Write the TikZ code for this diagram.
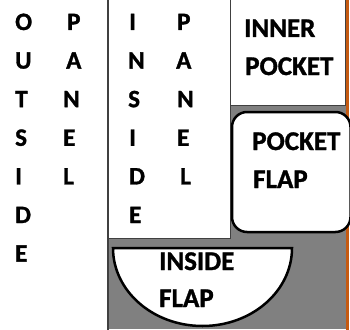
\documentclass[tikz,border=0pt]{standalone}
\usepackage{fontspec}
\setmainfont{Carlito}[BoldFeatures={FakeBold=1.2}]
\definecolor{panelgray}{HTML}{808080}
\definecolor{edgeorange}{HTML}{C55A11}
\definecolor{rulegray}{HTML}{404040}
\tikzset{
  ltr/.style={anchor=base west, inner sep=0pt, font=\fontsize{25}{28}\selectfont\bfseries},
  lbl/.style={anchor=base west, inner sep=0pt, font=\fontsize{27}{32}\selectfont\bfseries},
  sheet/.style={fill=white, draw=rulegray, line width=1pt},
  flap/.style={fill=white, draw=black, line width=2.5pt}
}
\begin{document}
\begin{tikzpicture}[x=1pt,y=-1pt]
\useasboundingbox (0,0) rectangle (350,329);
% grey backing of the inside half and its orange edge
\fill[panelgray] (108,0) rectangle (347,329);
\draw[edgeorange, line width=2.5pt] (347.5,-2) -- (347.5,331);
% inner pocket and inside panel sheets
\draw[sheet] (230,-2) rectangle (345,105);
\draw[sheet] (108,-2) rectangle (230,238);
% fold line between outside and inside panels
\draw[rulegray, line width=2pt] (108,-2) -- (108,331);
% pocket flap
\draw[flap, rounded corners=15pt] (232,112) rectangle (350.5,232);
% inside flap (half ellipse)
\draw[flap] (113,248) -- (292,248) arc[start angle=0, end angle=180, x radius=89.5, y radius=78] -- cycle;

% OUTSIDE
\node[ltr] (o1) at (15,30) {O};
\node[ltr] (o2) at (15,68.6) {U};
\node[ltr] (o3) at (15,107.2) {T};
\node[ltr] (o4) at (15,145.8) {S};
\node[ltr] (o5) at (15,184.4) {I};
\node[ltr] (o6) at (15,223) {D};
\node[ltr] (o7) at (15,261.6) {E};
% PANEL (outside)
\node[ltr] (p1) at (67,30) {P};
\node[ltr] (p2) at (66,68.6) {A};
\node[ltr] (p3) at (63,107.2) {N};
\node[ltr] (p4) at (63,145.8) {E};
\node[ltr] (p5) at (63,184.4) {L};
% INSIDE
\node[ltr] (i1) at (129,30) {I};
\node[ltr] (i2) at (128,68.6) {N};
\node[ltr] (i3) at (128,107.2) {S};
\node[ltr] (i4) at (129,145.8) {I};
\node[ltr] (i5) at (129,184.4) {D};
\node[ltr] (i6) at (129,223) {E};
% PANEL (inside)
\node[ltr] (q1) at (177,30) {P};
\node[ltr] (q2) at (176,68.6) {A};
\node[ltr] (q3) at (177,107.2) {N};
\node[ltr] (q4) at (177,145.8) {E};
\node[ltr] (q5) at (180,184.4) {L};

% labels
\node[lbl] (ip1) at (244,37) {INNER};
\node[lbl] (ip2) at (245,75) {POCKET};
\node[lbl] (pf1) at (252,150) {POCKET};
\node[lbl] (pf2) at (253,188) {FLAP};
\node[lbl] (if1) at (159,270) {INSIDE};
\node[lbl] (if2) at (159,307) {FLAP};
\end{tikzpicture}
\end{document}
